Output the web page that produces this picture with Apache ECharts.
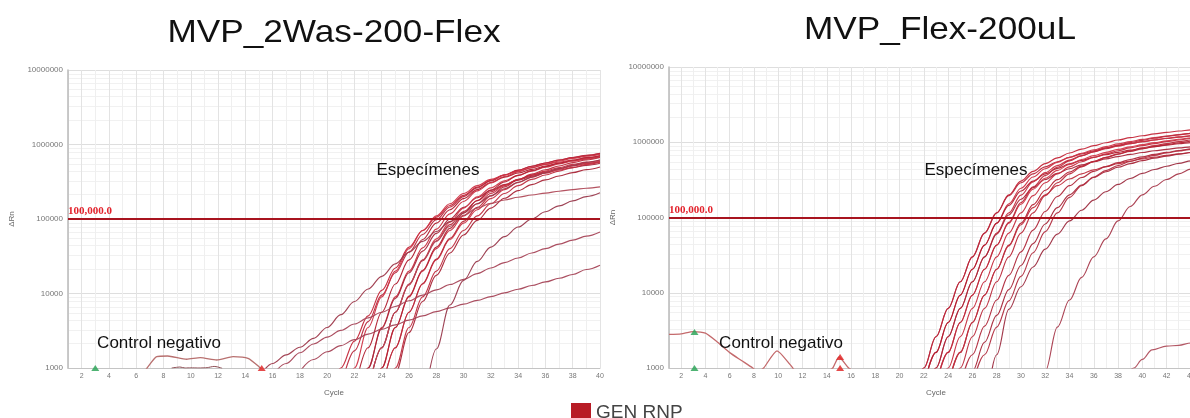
<!DOCTYPE html>
<html>
<head>
<meta charset="utf-8">
<style>
  html, body { margin: 0; padding: 0; background: #ffffff; overflow: hidden; }
  #chart { width: 1210px; height: 418px; }
</style>
<script src="https://cdn.jsdelivr.net/npm/echarts@6/dist/echarts.min.js"></script>
</head>
<body>
<div id="chart"></div>
<script>
// ---- Run 1: MVP_2Was-200-Flex (cycles 1..40) ----
// Each amplification curve: first integer cycle + ΔRn values for consecutive cycles.
const leftStarts = [20, 21, 21, 22, 22, 22, 23, 23, 23, 23, 24, 24, 24, 24, 23, 15, 16, 18, 27];
const leftCurves = [
  [300, 1000, 2300, 5000, 11000, 22000, 42000, 70000, 106000, 152000, 208000, 268000, 330000, 392000, 452000, 510000, 565000, 617000, 665000, 710000, 755000],
  [550, 1700, 4200, 9500, 19000, 36000, 62000, 98000, 145000, 200000, 262000, 325000, 390000, 450000, 510000, 565000, 620000, 670000, 715000, 760000],
  [250, 1000, 3500, 9000, 20000, 40000, 70000, 110000, 160000, 220000, 280000, 340000, 390000, 440000, 490000, 540000, 580000, 620000, 660000, 700000],
  [500, 1870, 5600, 13400, 28300, 53000, 88000, 133000, 188000, 248000, 309000, 364000, 414000, 464000, 514000, 560000, 600000, 640000, 680000],
  [250, 1000, 3500, 9000, 20000, 41000, 73000, 117000, 172000, 238000, 305000, 372000, 430000, 488000, 545000, 600000, 650000, 695000, 740000],
  [250, 1000, 3400, 8600, 19000, 37000, 64000, 100000, 143000, 193000, 242000, 290000, 333000, 375000, 415000, 455000, 490000, 525000, 560000],
  [500, 1870, 5600, 13400, 28300, 54000, 91000, 140000, 198000, 262000, 326000, 385000, 440000, 495000, 548000, 600000, 645000, 690000],
  [500, 1870, 5600, 13000, 27500, 51000, 84000, 126000, 176000, 232000, 288000, 338000, 385000, 430000, 475000, 518000, 555000, 590000],
  [250, 1000, 3500, 9000, 20000, 40000, 70000, 110000, 160000, 220000, 280000, 340000, 390000, 440000, 490000, 540000, 580000, 620000],
  [250, 1000, 3500, 9200, 20500, 42000, 75000, 120000, 177000, 245000, 315000, 385000, 445000, 505000, 560000, 615000, 665000, 710000],
  [500, 1870, 5600, 13400, 28300, 53000, 88000, 133000, 188000, 248000, 309000, 364000, 414000, 464000, 514000, 560000, 600000],
  [500, 1870, 5600, 13600, 29000, 55000, 93000, 143000, 204000, 270000, 338000, 400000, 458000, 515000, 570000, 622000, 670000],
  [250, 1000, 3500, 9000, 20000, 40000, 70000, 110000, 160000, 220000, 280000, 340000, 390000, 440000, 490000, 540000, 580000],
  [200, 850, 3000, 7800, 17500, 35000, 61000, 96000, 140000, 190000, 240000, 290000, 335000, 378000, 420000, 460000, 500000],
  [500, 1870, 5600, 13400, 28000, 50000, 80000, 112000, 140000, 162000, 180000, 196000, 210000, 223000, 236000, 248000, 259000, 270000],
  [750, 1150, 1500, 1900, 2500, 3500, 5200, 7800, 11500, 17000, 25000, 36000, 50000, 68000, 92000, 122000, 160000, 205000, 255000, 310000, 365000, 420000, 475000, 525000, 575000, 620000],
  [800, 1150, 1600, 2100, 2600, 3200, 3900, 4700, 5600, 6700, 8000, 9500, 11200, 13200, 15500, 18500, 22000, 26000, 30000, 35000, 40000, 46000, 52000, 59000, 67000],
  [900, 1300, 1650, 2000, 2400, 2850, 3300, 3800, 4400, 5000, 5700, 6400, 7200, 8100, 9100, 10200, 11400, 12800, 14300, 16000, 18000, 21000, 24000],
  [250, 1800, 7000, 15000, 27000, 42000, 58000, 78000, 100000, 125000, 150000, 175000, 200000, 225000]
];
const leftColors = ['#c4283a', '#b8283c', '#cf3446', '#b01f30', '#c93142', '#a8273a', '#d13a4b', '#bd2b3d',
                    '#c62d3f', '#b32234', '#cc3647', '#ba2a3b', '#c12f41', '#a92638', '#b04a58', '#9e3a4c',
                    '#a8475a', '#a54557', '#9a3a4d'];

// Negative control traces (fractional cycles)
const leftNegCycles = [6.5, 6.8, 7.5, 8.3, 9.7, 10.7, 11.9, 13.1, 14.2, 15.0, 15.3];
const leftNegValues = [850, 1000, 1420, 1450, 1310, 1375, 1280, 1420, 1350, 1040, 900];
const leftNegLowCycles = [8.6, 9.2, 9.6, 10.0, 10.6, 11.2, 11.7, 12.0, 12.3];
const leftNegLowValues = [1000, 1030, 1000, 1005, 1000, 1010, 1050, 1030, 990];
const leftGreenFlags = [[3.0, 1000]];
const leftRedFlags = [[15.2, 1000]];

// ---- Run 2: MVP_Flex-200uL (cycles 1..45) ----
const rightStarts = [21, 21, 22, 22, 22, 22, 23, 23, 23, 24, 24, 24, 25, 25, 26, 27, 31];
const rightCurves = [
  [350, 1000, 2600, 6200, 14000, 30000, 62000, 115000, 200000, 305000, 410000, 520000, 620000, 720000, 810000, 900000, 985000, 1070000, 1150000, 1220000, 1290000, 1350000, 1410000, 1460000, 1510000],
  [350, 1000, 2600, 6200, 14000, 30000, 62000, 115000, 195000, 290000, 380000, 470000, 550000, 630000, 700000, 770000, 840000, 900000, 960000, 1020000, 1070000, 1120000, 1170000, 1210000, 1250000],
  [590, 1610, 4020, 9300, 20500, 43000, 84000, 152000, 245000, 345000, 445000, 540000, 630000, 715000, 795000, 875000, 950000, 1020000, 1090000, 1150000, 1210000, 1265000, 1315000, 1360000],
  [590, 1610, 4020, 9300, 20500, 43000, 84000, 145000, 225000, 305000, 380000, 450000, 515000, 575000, 630000, 685000, 735000, 785000, 830000, 875000, 915000, 955000, 990000, 1020000],
  [350, 1000, 2600, 6200, 14000, 30000, 62000, 115000, 198000, 298000, 395000, 490000, 580000, 665000, 745000, 820000, 890000, 955000, 1015000, 1075000, 1130000, 1180000, 1225000, 1270000],
  [350, 1000, 2600, 6200, 14000, 30000, 60000, 108000, 175000, 250000, 320000, 385000, 445000, 500000, 550000, 600000, 645000, 690000, 730000, 770000, 805000, 840000, 870000, 900000],
  [590, 1610, 4020, 9300, 20500, 43000, 84000, 150000, 238000, 332000, 423000, 508000, 590000, 664000, 734000, 804000, 870000, 929000, 990000, 1045000, 1095000, 1145000, 1190000],
  [590, 1610, 4020, 9300, 20500, 43000, 86000, 158000, 255000, 360000, 465000, 565000, 660000, 750000, 835000, 915000, 990000, 1060000, 1130000, 1195000, 1255000, 1310000, 1360000],
  [350, 1000, 2600, 6200, 14000, 30000, 62000, 115000, 195000, 290000, 380000, 470000, 550000, 630000, 700000, 770000, 840000, 900000, 960000, 1020000, 1070000, 1120000, 1170000],
  [590, 1610, 4020, 9300, 20500, 43000, 84000, 148000, 230000, 318000, 402000, 482000, 558000, 628000, 693000, 757000, 818000, 875000, 930000, 980000, 1030000, 1075000],
  [590, 1610, 4020, 9300, 20500, 42000, 80000, 135000, 200000, 265000, 325000, 380000, 430000, 475000, 520000, 560000, 600000, 635000, 670000, 700000, 730000, 760000],
  [350, 1000, 2600, 6200, 14000, 30000, 62000, 115000, 195000, 290000, 380000, 470000, 550000, 630000, 700000, 770000, 840000, 900000, 960000, 1020000, 1070000, 1120000],
  [590, 1500, 3600, 8000, 17000, 35000, 68000, 120000, 190000, 265000, 340000, 410000, 475000, 535000, 590000, 640000, 690000, 735000, 775000, 815000, 850000],
  [300, 900, 2200, 5000, 11000, 23000, 45000, 82000, 135000, 200000, 270000, 340000, 405000, 465000, 520000, 570000, 615000, 655000, 695000, 730000, 765000],
  [600, 1500, 3500, 7800, 16500, 34000, 65000, 115000, 185000, 265000, 345000, 420000, 490000, 555000, 615000, 670000, 720000, 765000, 805000, 845000],
  [200, 1500, 6000, 12000, 22000, 38000, 60000, 90000, 125000, 170000, 220000, 275000, 330000, 385000, 435000, 480000, 525000, 565000, 600000],
  [200, 900, 3500, 8000, 16000, 30000, 52000, 90000, 140000, 200000, 260000, 320000, 380000, 440000, 490000]
];
const rightColors = ['#c4283a', '#b8283c', '#cf3446', '#b01f30', '#c93142', '#a8273a', '#d13a4b', '#bd2b3d',
                     '#c62d3f', '#b32234', '#c0303f', '#ba2a3b', '#b02a3c', '#a8283a', '#b22e40', '#9e2f42', '#a83a4c'];
const rightLateCycles = [38.5, 39.3, 40.0, 40.8, 42.0, 43.0, 44.0, 45.0];
const rightLateValues = [700, 1000, 1300, 1740, 1950, 2000, 2150, 2250];

const rightNegCycles = [1, 2, 3, 4, 5, 6, 7, 7.9, 8.3];
const rightNegValues = [2800, 2850, 3050, 2900, 2200, 1600, 1250, 1000, 880];
const rightNegPeakCycles = [8.4, 8.8, 9.9, 11.0, 11.3];
const rightNegPeakValues = [900, 1000, 1690, 1100, 950];
const rightNegSmallCycles = [14.2, 14.5, 15.0, 15.8, 16.1];
const rightNegSmallValues = [930, 1000, 1400, 1000, 930];
const rightGreenFlags = [[3.1, 3000], [3.1, 1000]];
const rightRedFlags = [[15.1, 1400], [15.1, 1000]];

const threshold = 100000;
const thresholdLabel = '100,000.0';
const titles = ['MVP_2Was-200-Flex', 'MVP_Flex-200uL'];
const legendName = 'GEN RNP';

// ---- helpers ----
const FONT = '"Liberation Sans", Arial, sans-serif';
const toPoints = (start, vals) => vals.map((v, i) => [start + i, v]);
const zipPoints = (xs, ys) => xs.map((x, i) => [x, ys[i]]);

function ampSeries(idx, points, color, withThreshold) {
  const s = {
    type: 'line', name: legendName,
    xAxisIndex: idx, yAxisIndex: idx,
    data: points, showSymbol: false, symbol: 'none',
    smooth: 0.35, smoothMonotone: 'x',
    lineStyle: { color: color, width: 1.15, opacity: 0.95 },
    itemStyle: { color: '#b81c26' },
    emphasis: { disabled: true }, silent: true, z: 3
  };
  if (withThreshold) {
    s.markLine = {
      silent: true, symbol: 'none', animation: false,
      lineStyle: { color: '#a8141f', width: 2, type: 'solid' },
      label: {
        show: true, position: 'insideStartTop', formatter: thresholdLabel,
        color: '#e3222c', fontFamily: '"Liberation Serif", "DejaVu Serif", serif',
        fontWeight: 'bold', fontSize: 11, distance: [0, 2]
      },
      data: [{ yAxis: threshold }]
    };
  }
  return s;
}

function traceSeries(idx, points, color, width) {
  return {
    type: 'line', name: 'NC', xAxisIndex: idx, yAxisIndex: idx,
    data: points, showSymbol: false, symbol: 'none', smooth: 0.2,
    lineStyle: { color: color, width: width || 1.2 },
    emphasis: { disabled: true }, silent: true, z: 2
  };
}

function flagSeries(idx, points, color) {
  return {
    type: 'scatter', name: 'flag', xAxisIndex: idx, yAxisIndex: idx,
    data: points, symbol: 'triangle', symbolSize: [8, 6],
    itemStyle: { color: color, opacity: 0.85 }, silent: true, z: 4
  };
}

function xAxisDef(grid, max) {
  return {
    type: 'value', gridIndex: grid, min: 1, max: max, interval: 1,
    name: 'Cycle', nameLocation: 'middle', nameGap: 21,
    nameTextStyle: { fontSize: 8, color: '#666', fontFamily: FONT },
    axisLine: { show: true, lineStyle: { color: '#c4c4c4', width: 1 } },
    axisTick: { show: false },
    axisLabel: {
      fontSize: 7, color: '#777', margin: 5, fontFamily: FONT,
      formatter: v => (v % 2 === 0 ? String(v) : '')
    },
    splitLine: { show: true, lineStyle: { color: ['#efefef', '#e3e3e3'], width: 1 } }
  };
}

function yAxisDef(grid) {
  return {
    type: 'log', logBase: 10, gridIndex: grid, min: 1000, max: 10000000,
    name: 'ΔRn', nameLocation: 'middle', nameGap: 52, nameRotate: 90,
    nameTextStyle: { fontSize: 8, color: '#666', fontFamily: FONT },
    axisLine: { show: true, lineStyle: { color: '#b8b8b8', width: 1.5 } },
    axisTick: { show: false },
    axisLabel: {
      fontSize: 8, color: '#777', margin: 5, fontFamily: FONT,
      formatter: v => String(Math.round(v))
    },
    splitLine: { show: true, lineStyle: { color: '#dedede', width: 1 } },
    minorTick: { show: false, splitNumber: 8 },
    minorSplitLine: { show: true, lineStyle: { color: '#f1f1f1', width: 1 } }
  };
}

// ---- series ----
const series = [];
leftCurves.forEach((vals, i) => {
  series.push(ampSeries(0, toPoints(leftStarts[i], vals), leftColors[i % leftColors.length], i === 0));
});
series.push(traceSeries(0, zipPoints(leftNegCycles, leftNegValues), '#b8706f', 1.3));
series.push(traceSeries(0, zipPoints(leftNegLowCycles, leftNegLowValues), '#8a4a50', 1.0));
series.push(flagSeries(0, leftGreenFlags, '#2fa65a'));
series.push(flagSeries(0, leftRedFlags, '#e02a2a'));

rightCurves.forEach((vals, i) => {
  series.push(ampSeries(1, toPoints(rightStarts[i], vals), rightColors[i % rightColors.length], i === 0));
});
series.push(ampSeries(1, zipPoints(rightLateCycles, rightLateValues), '#b0505e', false));
series.push(traceSeries(1, zipPoints(rightNegCycles, rightNegValues), '#c46a6c', 1.3));
series.push(traceSeries(1, zipPoints(rightNegPeakCycles, rightNegPeakValues), '#c46a6c', 1.3));
series.push(traceSeries(1, zipPoints(rightNegSmallCycles, rightNegSmallValues), '#c46a6c', 1.3));
series.push(flagSeries(1, rightGreenFlags, '#2fa65a'));
series.push(flagSeries(1, rightRedFlags, '#e02a2a'));

// Free-standing text (titles and annotations)
function label(text, x, y, size, scaleX) {
  return {
    type: 'text', x: x, y: y, z: 10, scaleX: scaleX || 1,
    style: {
      text: text, align: 'center', verticalAlign: 'middle',
      fontSize: size, fontFamily: FONT, fontWeight: 'normal',
      fill: '#111111', stroke: null, lineWidth: 0
    }
  };
}

const option = {
  backgroundColor: '#ffffff',
  animation: false,
  grid: [
    { left: 68, top: 70, width: 532, height: 298, containLabel: false },
    { left: 669, top: 67, width: 534, height: 301, containLabel: false }
  ],
  xAxis: [xAxisDef(0, 40), xAxisDef(1, 45)],
  yAxis: [yAxisDef(0), yAxisDef(1)],
  legend: {
    data: [{ name: legendName, itemStyle: { color: '#b81c26' } }],
    left: 566, top: 398, itemWidth: 20, itemHeight: 19, icon: 'rect', itemGap: 8,
    selectedMode: false,
    textStyle: { fontSize: 19, color: '#444', fontFamily: FONT }
  },
  graphic: [
    label(titles[0], 334, 33, 32, 1.1),
    label(titles[1], 940, 30, 32, 1.1),
    label('Especímenes', 428, 170, 17),
    label('Especímenes', 976, 170, 17),
    label('Control negativo', 159, 343, 17),
    label('Control negativo', 781, 343, 17)
  ],
  series: series
};

const chart = echarts.init(document.getElementById('chart'), null, { renderer: 'canvas' });
chart.setOption(option);
</script>
</body>
</html>
